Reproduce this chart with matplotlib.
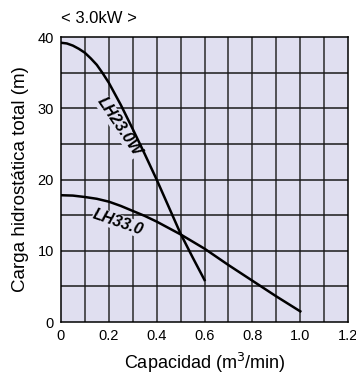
import matplotlib
matplotlib.use("Agg")
import matplotlib.pyplot as plt
import numpy as np

plt.rcParams['font.family'] = ['Liberation Sans', 'DejaVu Sans']

title = "< 3.0kW >"
xlabel = "Capacidad (m$^3$/min)"
ylabel = "Carga hidrostática total (m)"

q_23 = [0.0, 0.025, 0.05, 0.075, 0.1, 0.125, 0.15, 0.175, 0.2, 0.25, 0.3, 0.35, 0.4, 0.45, 0.5, 0.55, 0.6]
h_23 = [39.2, 39.1, 38.8, 38.35, 37.8, 37.0, 36.1, 34.9, 33.6, 30.5, 27.1, 23.6, 20.0, 16.2, 12.4, 9.1, 5.9]
q_33 = [0.0, 0.05, 0.1, 0.15, 0.2, 0.25, 0.3, 0.35, 0.4, 0.45, 0.5, 0.6, 0.7, 0.8, 0.9, 1.0]
h_33 = [17.8, 17.75, 17.55, 17.3, 16.9, 16.3, 15.6, 14.9, 14.1, 13.2, 12.3, 10.3, 8.0, 5.8, 3.6, 1.5]

xticks = [0, 0.2, 0.4, 0.6, 0.8, 1.0, 1.2]
xticklabels = ["0", "0.2", "0.4", "0.6", "0.8", "1.0", "1.2"]
yticks = [0, 10, 20, 30, 40]

bg = '#e0dff0'
fig = plt.figure(figsize=(3.56, 3.78), dpi=100)
ax = fig.add_axes([0.171, 0.148, 0.807, 0.754])
ax.set_facecolor(bg)
ax.set_xlim(0, 1.2)
ax.set_ylim(0, 40)
for x in np.arange(0.1, 1.2, 0.1):
    ax.axvline(x, color='#2a2a2a', lw=1.1, zorder=1)
for y in np.arange(5, 40, 5):
    ax.axhline(y, color='#1a1a1a', lw=1.1, zorder=1)

ax.plot(q_23, h_23, color='black', lw=1.8, zorder=3)
ax.plot(q_33, h_33, color='black', lw=1.8, zorder=3)

bb = dict(facecolor=bg, edgecolor='none', pad=0.3)
ax.text(0.245, 27.4, "LH23.0W", rotation=-56, ha='center', va='center',
        fontsize=11.5, fontweight='bold', style='italic', bbox=bb, zorder=2)
ax.text(0.24, 14.0, "LH33.0", rotation=-19, ha='center', va='center',
        fontsize=11.5, fontweight='bold', style='italic', bbox=bb, zorder=2)

ax.set_xticks(xticks)
ax.set_xticklabels(xticklabels)
ax.set_yticks(yticks)
ax.tick_params(length=0, labelsize=10.5, pad=5)
for s in ax.spines.values():
    s.set_color('black')
    s.set_linewidth(1.1)
ax.set_xlabel(xlabel, fontsize=13, labelpad=6)
ax.set_ylabel(ylabel, fontsize=13.5, labelpad=6)
fig.text(0.171, 0.952, title, fontsize=12, ha='left', va='center')

fig.savefig("out.png", dpi=100)
